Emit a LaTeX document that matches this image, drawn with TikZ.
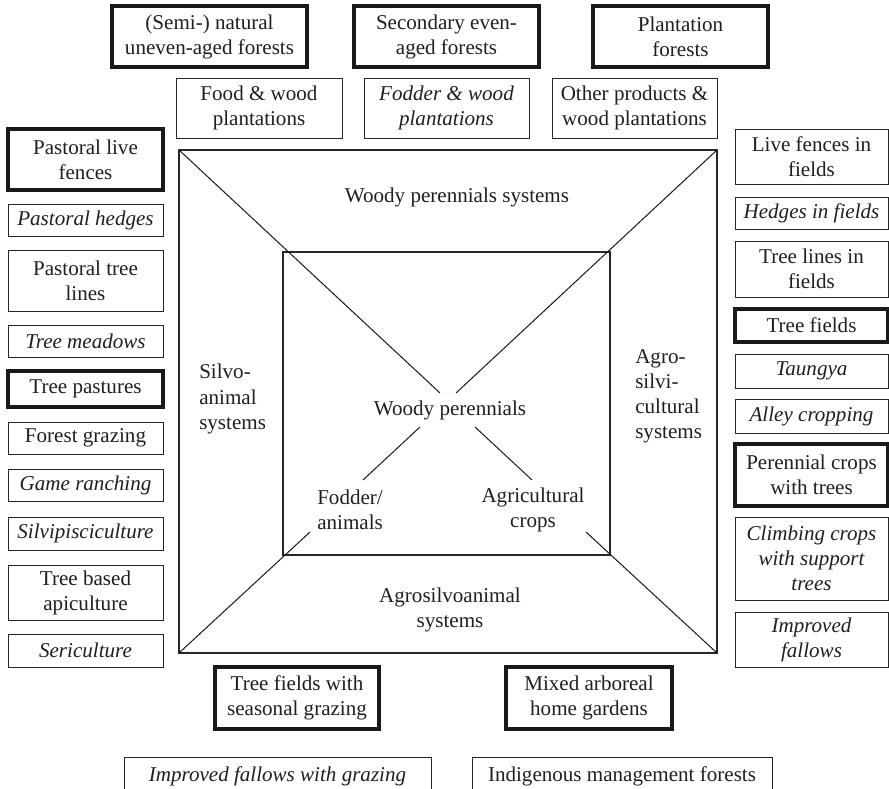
\documentclass[tikz,border=0pt]{standalone}
\usepackage{fontspec}
\setmainfont{Liberation Serif}

% box spanning the pixel corners (x1,y1)-(x2,y2), text centred inside
% #1 style, #2 name, #3 x1, #4 y1, #5 x2, #6 y2, #7 text
\newcommand\placebox[7]{%
  \node[#1, minimum width={(#5-#3)*0.75pt}, minimum height={(#6-#4)*0.75pt}]
    (#2) at ({(#3+#5)/2},{(#4+#6)/2}) {#7};}

\begin{document}
\begin{tikzpicture}[x=0.75pt, y=-0.75pt,
  every node/.style={font=\fontsize{15.8pt}{18.8pt}\selectfont, text=black!88},
  thinbox/.style={draw=black!85, line width=0.75pt, inner sep=0pt, align=center},
  thickbox/.style={draw=black!90, line width=2.6pt, inner sep=0pt, align=center},
  itbox/.style={thinbox, font=\fontsize{15.8pt}{18.8pt}\selectfont\itshape},
  lbl/.style={inner sep=0pt, align=center},
  lbll/.style={inner sep=0pt, align=left},
  frame/.style={draw=black!85, line width=0.9pt},
  diag/.style={draw=black!90, line width=0.75pt}]

\useasboundingbox (0,0) rectangle (889,789);
\clip (0,0) rectangle (889,789);

% ---------- forest types (top row) ----------
\placebox{thickbox}{semi}{112}{6}{307}{67}{(Semi-) natural\\uneven-aged forests}
\placebox{thickbox}{second}{354}{6}{539}{67}{Secondary even-\\aged forests}
\placebox{thickbox}{plantf}{593}{6}{768}{67}{Plantation\\forests}

% ---------- plantations (second row) ----------
\placebox{thinbox}{foodw}{176}{78}{342}{138}{Food \& wood\\plantations}
\placebox{itbox}{fodderw}{364}{78}{529}{138}{Fodder \& wood\\plantations}
\placebox{thinbox}{otherw}{552}{78}{717}{138}{Other products \&\\wood plantations}

% ---------- silvo-animal practices (left column) ----------
\placebox{thickbox}{plf}{8}{129}{163}{190}{Pastoral live\\fences}
\placebox{itbox}{ph}{8}{204}{163}{236}{Pastoral hedges}
\placebox{thinbox}{ptl}{8}{250}{163}{311}{Pastoral tree\\lines}
\placebox{itbox}{tm}{8}{325}{163}{357}{Tree meadows}
\placebox{thickbox}{tp}{8}{371}{163}{407}{Tree pastures}
\placebox{thinbox}{fg}{8}{422}{163}{454}{Forest grazing}
\placebox{itbox}{gr}{8}{469}{163}{501}{Game ranching}
\placebox{itbox}{sp}{8}{517}{163}{550}{Silvipisciculture}
\placebox{thinbox}{tba}{8}{565}{163}{620}{Tree based\\apiculture}
\placebox{itbox}{ser}{8}{634}{163}{667}{Sericulture}

% ---------- agrosilvicultural practices (right column) ----------
\placebox{thinbox}{lff}{735}{129}{888}{184}{Live fences in\\fields}
\placebox{itbox}{hif}{735}{197}{888}{229}{Hedges in fields}
\placebox{thinbox}{tlf}{735}{241}{888}{297}{Tree lines in\\fields}
\placebox{thickbox}{tf}{735}{309}{888}{342}{Tree fields}
\placebox{itbox}{tau}{735}{354}{888}{388}{Taungya}
\placebox{itbox}{ac}{735}{399}{888}{433}{Alley cropping}
\placebox{thickbox}{pct}{735}{444}{888}{506}{Perennial crops\\with trees}
\placebox{itbox}{ccs}{735}{517}{888}{600}{Climbing crops\\with support\\trees}
\placebox{itbox}{if}{735}{612}{888}{667}{Improved\\fallows}

% ---------- agrosilvoanimal practices (bottom) ----------
\placebox{thickbox}{tfs}{215}{667}{379}{729}{Tree fields with\\seasonal grazing}
\placebox{thickbox}{mahg}{506}{667}{672}{729}{Mixed arboreal\\home gardens}
\placebox{itbox}{ifg}{124}{757}{431}{795}{Improved fallows with grazing}
\placebox{thinbox}{imf}{472}{757}{772}{795}{Indigenous management forests}

% ---------- central frame ----------
\coordinate (otl) at (179,150);
\coordinate (otr) at (717,150);
\coordinate (obl) at (179,653);
\coordinate (obr) at (717,653);
\coordinate (itl) at (283,252);
\coordinate (itr) at (610,252);
\coordinate (ibl) at (283,555);
\coordinate (ibr) at (610,555);
\draw[frame] (otl) rectangle (obr);
\draw[frame] (itl) rectangle (ibr);

% diagonal spokes
\coordinate (d1) at (440,393);
\coordinate (d2) at (456,393);
\coordinate (d3a) at (420,427);
\coordinate (d3b) at (363,480);
\coordinate (d4a) at (475,427);
\coordinate (d4b) at (532,480);
\coordinate (d5) at (310,532);
\coordinate (d6) at (586,532);
\draw[diag] (otl) -- (d1);
\draw[diag] (otr) -- (d2);
\draw[diag] (d3a) -- (d3b);
\draw[diag] (d4a) -- (d4b);
\draw[diag] (obl) -- (d5);
\draw[diag] (obr) -- (d6);

% ---------- labels ----------
\node[lbl] (wps) at (457,197) {Woody perennials systems};
\node[lbl] (wp) at (450,410) {Woody perennials};
\node[lbll, anchor=west] (fa) at (317,510) {Fodder/\\animals};
\node[lbl] (agc) at (533,510) {Agricultural\\crops};
\node[lbll, anchor=west] (sas) at (199,399) {Silvo-\\animal\\systems};
\node[lbll, anchor=west] (ass) at (635,396.5) {Agro-\\silvi-\\cultural\\systems};
\node[lbl] (asa) at (450,610) {Agrosilvoanimal\\systems};

\end{tikzpicture}
\end{document}
